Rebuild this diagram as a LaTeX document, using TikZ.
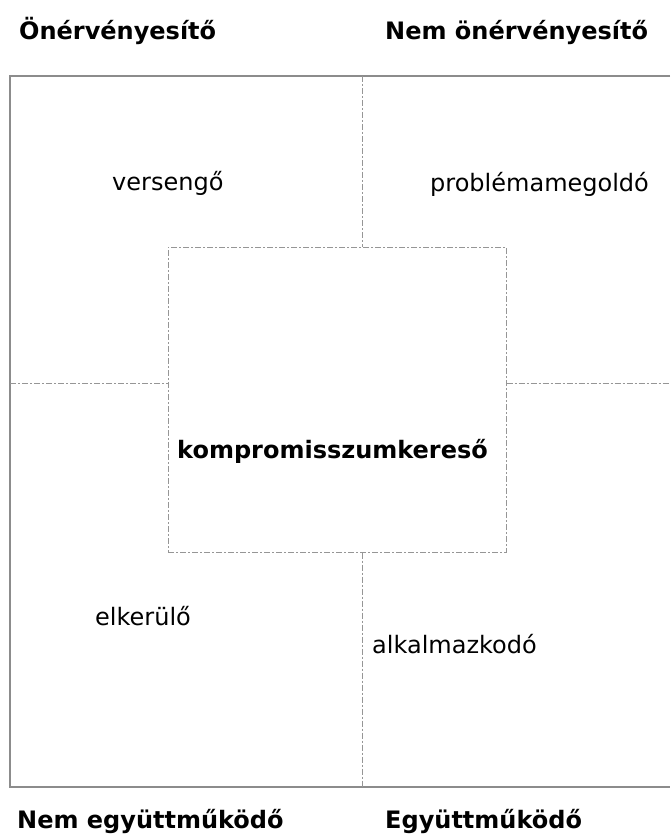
\documentclass[tikz,border=0pt]{standalone}
\usepackage{fontspec}
\setmainfont{DejaVu Sans}
\usetikzlibrary{positioning}

\tikzset{
  frame/.style={draw={rgb,255:red,140;green,140;blue,140}, line width=1.5pt},
  dashdot/.style={draw={rgb,255:red,150;green,150;blue,150}, line width=1pt, dash pattern=on 6pt off 2pt on 2pt off 2pt},
  head/.style={anchor=base west, inner sep=0pt, font=\fontsize{24}{28}\selectfont\bfseries},
  kind/.style={anchor=base west, inner sep=0pt, font=\fontsize{24}{28}\selectfont}
}

\begin{document}
\begin{tikzpicture}[x=1pt,y=-1pt]
\useasboundingbox (0,0) rectangle (670,837);
% outer frame, open on the right
\coordinate (tl) at (10,76);
\coordinate (tr) at (670,76);
\coordinate (bl) at (10,787);
\coordinate (br) at (670,787);
\draw[frame] (tr) -- (tl) -- (bl) -- (br);
% middle box
\node[dashdot, minimum width=338pt, minimum height=305pt, inner sep=0pt] (kbox) at (337,399.5) {};
\coordinate (top) at (362,76);
\coordinate (bot) at (362,787);
\coordinate (lft) at (10,383);
\coordinate (rgt) at (670,383);
\draw[dashdot] (top) -- (kbox.north -| top);
\draw[dashdot] (kbox.south -| bot) -- (bot);
\draw[dashdot] (lft) -- (kbox.west |- lft);
\draw[dashdot] (kbox.east |- rgt) -- (rgt);
% axis labels
\node[head] (onerv) at (19,40) {Önérvényesítő};
\node[head] (nemonerv) at (385,40) {Nem önérvényesítő};
\node[head] (nemegy) at (17,828) {Nem együttműködő};
\node[head] (egy) at (385,828) {Együttműködő};
% styles
\node[kind] (verseng) at (112,190) {versengő};
\node[kind] (problema) at (430,191) {problémamegoldó};
\node[head] (kompr) at (177,458) {kompromisszumkereső};
\node[kind] (elkerul) at (95,625) {elkerülő};
\node[kind] (alkalm) at (372,653) {alkalmazkodó};
\end{tikzpicture}
\end{document}
